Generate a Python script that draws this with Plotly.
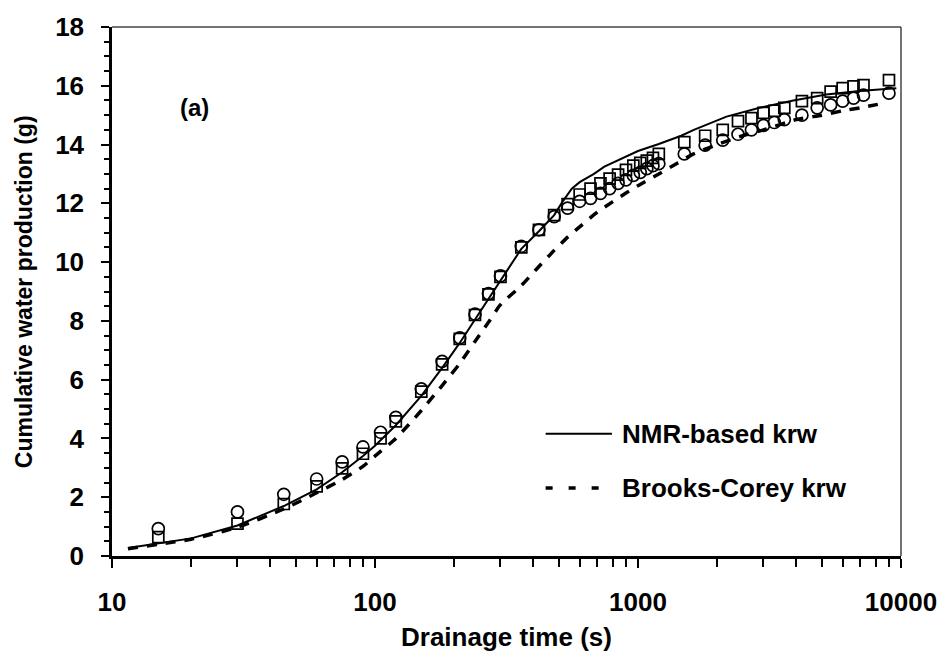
import plotly.graph_objects as go

# ---- data ----
t_obs = [15, 30, 45, 60, 75, 90, 105, 120, 150, 180, 210, 240, 270, 300, 360, 420, 480, 540,
         600, 660, 720, 780, 840, 900, 960, 1020, 1080, 1140, 1200, 1500, 1800, 2100, 2400,
         2700, 3000, 3300, 3600, 4200, 4800, 5400, 6000, 6600, 7200, 9000]
obs_circles = [0.93, 1.5, 2.1, 2.62, 3.2, 3.71, 4.21, 4.72, 5.69, 6.62, 7.42, 8.23, 8.93, 9.53,
               10.54, 11.1, 11.55, 11.84, 12.07, 12.17, 12.34, 12.5, 12.68, 12.8, 12.95, 13.05,
               13.18, 13.28, 13.35, 13.68, 13.98, 14.15, 14.35, 14.5, 14.65, 14.75, 14.85, 15.0,
               15.25, 15.35, 15.48, 15.58, 15.68, 15.75]
obs_squares = [0.64, 1.1, 1.77, 2.37, 2.98, 3.48, 4.0, 4.58, 5.59, 6.52, 7.39, 8.2, 8.9, 9.5,
               10.5, 11.1, 11.6, 11.97, 12.3, 12.5, 12.68, 12.84, 12.98, 13.14, 13.28, 13.38,
               13.45, 13.55, 13.68, 14.08, 14.3, 14.5, 14.8, 14.9, 15.08, 15.15, 15.25, 15.48,
               15.58, 15.8, 15.92, 15.98, 16.02, 16.19]

t_nmr = [11.5, 15, 20, 30, 45, 60, 75, 90, 100, 120, 150, 180, 210, 240, 270, 300, 360, 420,
         480, 516, 560, 600, 680, 745, 850, 1000, 1200, 1460, 1630, 2170, 2900, 3900, 5200,
         6950, 9000, 9600]
v_nmr = [0.27, 0.42, 0.6, 1.04, 1.7, 2.27, 2.85, 3.4, 3.75, 4.45, 5.45, 6.4, 7.25, 8.05, 8.75,
         9.4, 10.45, 11.05, 11.6, 12.05, 12.5, 12.72, 13.0, 13.25, 13.5, 13.78, 14.02, 14.3,
         14.5, 14.95, 15.25, 15.5, 15.7, 15.82, 15.9, 15.92]

t_bc = [11.5, 15, 20, 30, 45, 60, 75, 90, 100, 120, 150, 180, 210, 240, 270, 300, 360, 420,
        480, 540, 600, 700, 800, 900, 1000, 1200, 1400, 1600, 2000, 2500, 3000, 4000, 5000,
        6000, 7000, 8500]
v_bc = [0.25, 0.4, 0.57, 0.98, 1.6, 2.15, 2.6, 3.05, 3.4, 4.0, 4.95, 5.8, 6.55, 7.3, 7.95,
        8.55, 9.2, 9.85, 10.4, 10.85, 11.2, 11.7, 12.05, 12.35, 12.6, 13.0, 13.35, 13.65, 14.0,
        14.3, 14.5, 14.85, 15.0, 15.15, 15.25, 15.4]

x_major = [10, 100, 1000, 10000]
x_labels = ["10", "100", "1000", "10000"]
x_minor = [m * d for d in (10, 100, 1000) for m in range(2, 10)]

FONT = "Liberation Sans, Arial, sans-serif"

fig = go.Figure()
fig.add_trace(go.Scatter(x=t_obs, y=obs_squares, mode="markers", showlegend=False,
                         marker=dict(symbol="square-open", size=11, color="black",
                                     line=dict(width=1.7, color="black"))))
fig.add_trace(go.Scatter(x=t_obs, y=obs_circles, mode="markers", showlegend=False,
                         marker=dict(symbol="circle-open", size=12, color="black",
                                     line=dict(width=1.7, color="black"))))
fig.add_trace(go.Scatter(x=t_nmr, y=v_nmr, mode="lines", showlegend=False,
                         line=dict(color="black", width=2)))
fig.add_trace(go.Scatter(x=t_bc, y=v_bc, mode="lines", showlegend=False,
                         line=dict(color="black", width=3.5, dash="10px,9px",
                                   shape="spline", smoothing=0.6)))

tickfont = dict(family=FONT, size=26, color="black", weight="bold")

fig.update_xaxes(type="log", range=[1, 4], tickmode="array", tickvals=x_major,
                 ticktext=x_labels, ticks="outside", ticklen=9, tickwidth=2,
                 tickcolor="black", showline=True, linewidth=2.5, linecolor="black",
                 showgrid=False, zeroline=False, tickfont=tickfont, ticklabelstandoff=12,
                 minor=dict(tickmode="array", tickvals=x_minor, ticks="outside",
                            ticklen=8, tickwidth=1.5, tickcolor="black", showgrid=False))
fig.update_yaxes(range=[0, 18], dtick=2, tick0=0, ticks="outside", ticklen=8, tickwidth=2,
                 tickcolor="black", showline=True, linewidth=2.5, linecolor="black",
                 showgrid=False, zeroline=False, tickfont=tickfont, ticklabelstandoff=12,
                 minor=dict(dtick=0.5, ticks="outside", ticklen=5, tickwidth=1.5,
                            tickcolor="black", showgrid=False))

shapes = [
    dict(type="line", xref="paper", yref="paper", x0=0, x1=1, y0=1, y1=1,
         line=dict(color="#444", width=1.5)),
    dict(type="line", xref="paper", yref="paper", x0=1, x1=1, y0=0, y1=1,
         line=dict(color="#444", width=1.5)),
    # legend samples
    dict(type="line", xref="paper", yref="paper", x0=0.5496, x1=0.6336, y0=0.2309, y1=0.2309,
         line=dict(color="black", width=2)),
    dict(type="line", xref="paper", yref="paper", x0=0.5496, x1=0.6223, y0=0.1285, y1=0.1285,
         line=dict(color="black", width=3.5, dash="7px,16px")),
]

annotations = [
    dict(text="<b>NMR-based krw</b>", xref="paper", yref="paper", x=0.6437, y=0.2309,
         xanchor="left", yanchor="middle", showarrow=False,
         font=dict(family=FONT, size=26, color="black")),
    dict(text="<b>Brooks-Corey krw</b>", xref="paper", yref="paper", x=0.6437, y=0.1285,
         xanchor="left", yanchor="middle", showarrow=False,
         font=dict(family=FONT, size=26, color="black")),
    dict(text="<b>(a)</b>", xref="paper", yref="paper", x=0.104, y=0.847,
         xanchor="center", yanchor="middle", showarrow=False,
         font=dict(family=FONT, size=24, color="black")),
    dict(text="<b>Drainage time (s)</b>", xref="paper", yref="paper", x=0.5, y=-0.153,
         xanchor="center", yanchor="middle", showarrow=False,
         font=dict(family=FONT, size=26, color="black")),
    dict(text="<b>Cumulative water production (g)</b>", xref="paper", yref="paper",
         x=-0.112, y=0.5, xanchor="center", yanchor="middle", textangle=-90, showarrow=False,
         font=dict(family=FONT, size=23, color="black")),
]

fig.update_layout(width=949, height=660, margin=dict(l=112, r=40, t=19, b=104),
                  paper_bgcolor="white", plot_bgcolor="white", showlegend=False,
                  shapes=shapes, annotations=annotations)

fig.write_html("out.html")
